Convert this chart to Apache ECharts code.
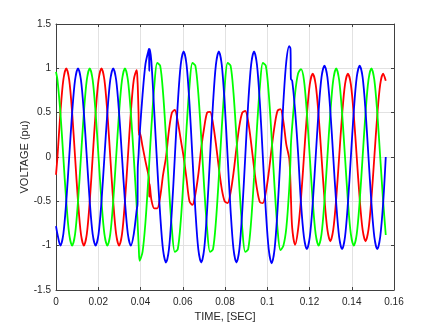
<!DOCTYPE html>
<html><head><meta charset="utf-8">
<script src="https://cdn.jsdelivr.net/npm/echarts/dist/echarts.min.js"></script>
<style>html,body{margin:0;padding:0;background:#fff}#c{width:436px;height:327px}</style>
</head><body><div id="c"></div>
<script>
const timeSec = [0,
0.00069,0.00208,0.00347,0.00486,0.00625,0.00764,0.00903,0.01042,0.01181,0.01319,0.01458,0.01597,
0.01736,0.01875,0.02014,0.02153,0.02292,0.02431,0.02569,0.02708,0.02847,0.02986,0.03125,0.03264,
0.03403,0.03542,0.03681,0.03819,
0.0386,0.0387,0.0391,0.0392,
0.03958,0.04097,0.04236,0.04375,
0.0440,0.04415,0.0443,
0.04514,0.04653,0.04792,0.04931,0.05069,0.05208,0.05347,0.05486,
0.05625,0.05764,0.05903,0.06042,0.06181,0.06319,0.06458,0.06597,0.06736,0.06875,0.07014,0.07153,
0.07292,0.07431,0.07569,0.07708,0.07847,0.07986,0.08125,0.08264,0.08403,0.08542,0.08681,0.08819,
0.08958,0.09097,0.09236,0.09375,0.09514,0.09653,0.09792,0.09931,0.10069,0.10208,0.10347,0.10486,
0.10625,0.10764,0.10903,0.11042,
0.1110,0.1112,
0.11181,0.11319,0.11458,0.11597,0.11736,0.11875,0.12014,0.12153,
0.12292,0.12431,0.12569,0.12708,0.12847,0.12986,0.13125,0.13264,0.13403,0.13542,0.13681,0.13819,
0.13958,0.14097,0.14236,0.14375,0.14514,0.14653,0.14792,0.14931,0.15069,0.15208,0.15347,0.15486,
0.1561];

const voltRed = [-0.2,
0,0.5,0.87,1,0.87,0.5,0,-0.5,-0.87,-1,-0.87,-0.5,
0,0.5,0.87,1,0.87,0.5,0,-0.5,-0.87,-1,-0.87,-0.5,
0,0.5,0.87,0.98,
0.85,0.8,0.47,0.25,
0.28,0.12,-0.05,-0.2,
-0.24,-0.45,-0.3,
-0.48,-0.58,-0.58,-0.45,-0.2,0,0.3,0.5,
0.53,0.4,0.2,0,-0.25,-0.5,-0.54,-0.42,-0.2,0.1,0.33,0.5,
0.51,0.38,0.15,-0.12,-0.36,-0.5,-0.52,-0.4,-0.18,0.1,0.35,0.5,
0.52,0.4,0.16,-0.12,-0.36,-0.51,-0.52,-0.4,-0.18,0.1,0.35,0.52,
0.54,0.4,0.14,-0.02,
-0.3,-0.45,
-0.8,-0.99,-0.82,-0.47,0,0.47,0.82,0.94,
0.82,0.47,0,-0.47,-0.82,-0.95,-0.82,-0.47,0,0.47,0.82,0.94,
0.82,0.47,0,-0.47,-0.82,-0.95,-0.82,-0.47,0,0.47,0.82,0.94,
0.86];

const voltGreen = [0.96,
0.87,0.5,0,-0.5,-0.87,-1,-0.87,-0.5,0,0.5,0.87,1,
0.87,0.5,0,-0.5,-0.87,-1,-0.87,-0.5,0,0.5,0.87,1,
0.87,0.5,0,-0.55,
-0.72,-0.78,-0.98,-1.03,
-1.17,-1.07,-0.73,-0.23,
-0.13,-0.06,0,
0.33,0.8,1.06,1.03,0.72,0.22,-0.34,-0.81,
-1.07,-1.04,-0.73,-0.23,0.33,0.8,1.06,1.03,0.72,0.22,-0.34,-0.81,
-1.07,-1.04,-0.73,-0.23,0.33,0.8,1.06,1.03,0.72,0.22,-0.34,-0.81,
-1.07,-1.04,-0.73,-0.23,0.33,0.8,1.06,1.03,0.72,0.22,-0.34,-0.81,
-1.05,-1.0,-0.8,-0.35,
-0.03,0.14,
0.35,0.72,0.94,0.99,0.87,0.5,0,-0.5,
-0.87,-1,-0.87,-0.5,0,0.5,0.87,1,0.87,0.5,0,-0.5,
-0.87,-1,-0.87,-0.5,0,0.5,0.87,1,0.87,0.5,0,-0.5,
-0.88];

const voltBlue = [-0.78,
-0.87,-1,-0.87,-0.5,0,0.5,0.87,1,0.87,0.5,0,-0.5,
-0.87,-1,-0.87,-0.5,0,0.5,0.87,1,0.87,0.5,0,-0.5,
-0.87,-1,-0.87,-0.6,
-0.53,-0.13,0.03,0.08,
0.25,0.7,1.05,1.2,
1.22,0.97,1.22,
1.08,0.5,-0.1,-0.65,-1.05,-1.19,-1.04,-0.6,
0,0.6,1.04,1.19,1.04,0.6,0,-0.6,-1.04,-1.19,-1.04,-0.6,
0,0.6,1.04,1.19,1.04,0.6,0,-0.6,-1.04,-1.19,-1.04,-0.6,
0,0.6,1.04,1.19,1.04,0.6,0,-0.6,-1.04,-1.2,-1.04,-0.6,
0,0.62,1.08,1.25,
1.22,0.88,
0.86,0.52,0.05,-0.52,-0.9,-1.04,-0.9,-0.52,
0,0.52,0.9,1.03,0.9,0.52,0,-0.52,-0.9,-1.04,-0.9,-0.52,
0,0.52,0.9,1.03,0.9,0.52,0,-0.52,-0.9,-1.04,-0.9,-0.52,
0];

const xTickLabels = ['0','0.02','0.04','0.06','0.08','0.1','0.12','0.14','0.16'];
const yTickLabels = ['-1.5','-1','-0.5','0','0.5','1','1.5'];

const FONT = '"Liberation Sans", Arial, Helvetica, sans-serif';
const AX = '#404040';
const zip = vals => timeSec.map((t, i) => [t, vals[i]]);

const chart = echarts.init(document.getElementById('c'), null, {renderer: 'canvas'});
const boxAxis = (extra) => Object.assign({
  type: 'value',
  axisLine: {show: true, onZero: false, lineStyle: {color: AX, width: 1}},
  axisTick: {show: true, inside: true, length: 3, lineStyle: {color: AX}},
  axisLabel: {show: false},
  splitLine: {show: false}
}, extra);

chart.setOption({
  animation: false,
  backgroundColor: '#ffffff',
  grid: {left: 56, right: 42, top: 24, bottom: 36, containLabel: false},
  xAxis: [
    boxAxis({
      position: 'bottom', min: 0, max: 0.16, interval: 0.02,
      name: 'TIME, [SEC]', nameLocation: 'middle', nameGap: 21, nameMoveOverlap: false,
      nameTextStyle: {fontFamily: FONT, fontSize: 11, color: '#262626'},
      axisLabel: {show: true, margin: 7, fontFamily: FONT, fontSize: 10, color: '#262626',
        formatter: v => xTickLabels[Math.round(v / 0.02)]},
      splitLine: {show: true, lineStyle: {color: '#e2e2e2', width: 1}}
    }),
    boxAxis({position: 'top', min: 0, max: 0.16, interval: 0.02})
  ],
  yAxis: [
    boxAxis({
      position: 'left', min: -1.5, max: 1.5, interval: 0.5,
      name: 'VOLTAGE (pu)', nameLocation: 'middle', nameGap: 26, nameRotate: 90, nameMoveOverlap: false,
      nameTextStyle: {fontFamily: FONT, fontSize: 11, color: '#262626'},
      axisLabel: {show: true, margin: 5, fontFamily: FONT, fontSize: 10, color: '#262626',
        formatter: v => yTickLabels[Math.round((v + 1.5) / 0.5)]},
      splitLine: {show: true, lineStyle: {color: '#e2e2e2', width: 1}}
    }),
    boxAxis({position: 'right', min: -1.5, max: 1.5, interval: 0.5})
  ],
  series: [
    {name: 'Va', type: 'line', data: zip(voltRed), showSymbol: false, smooth: 0.3,
     lineStyle: {color: '#ff0000', width: 1.8}, itemStyle: {color: '#ff0000'}},
    {name: 'Vb', type: 'line', data: zip(voltGreen), showSymbol: false, smooth: 0.3,
     lineStyle: {color: '#00ff00', width: 1.8}, itemStyle: {color: '#00ff00'}},
    {name: 'Vc', type: 'line', data: zip(voltBlue), showSymbol: false, smooth: 0.3,
     lineStyle: {color: '#0000ff', width: 1.8}, itemStyle: {color: '#0000ff'}}
  ]
});
</script>
</body></html>
